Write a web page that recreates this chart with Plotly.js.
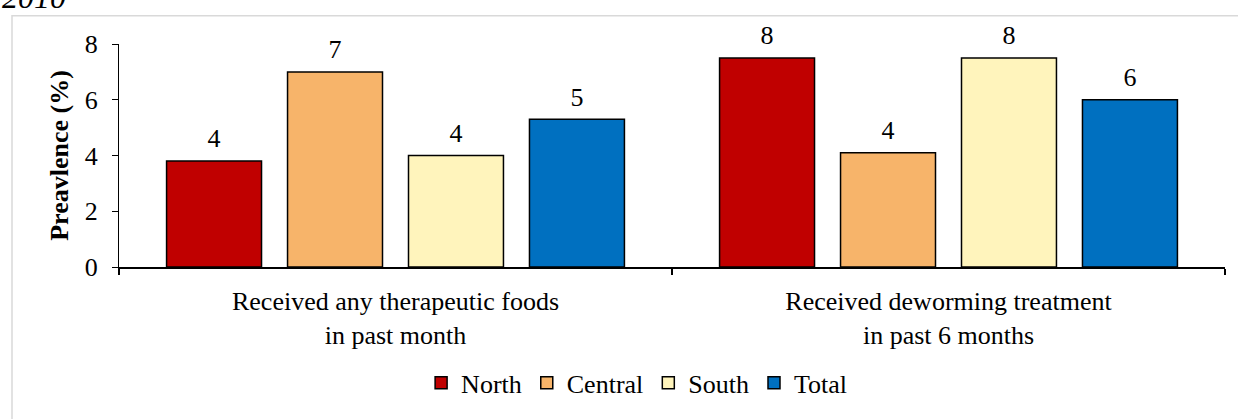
<!DOCTYPE html>
<html>
<head>
<meta charset="utf-8">
<script src="https://cdn.plot.ly/plotly-3.0.1.min.js"></script>
<style>html,body{margin:0;padding:0;background:#fff;}#chart{width:1238px;height:419px;}</style>
</head>
<body>
<div id="chart"></div>
<script>
const categories = ["Received any therapeutic foods<br>in past month", "Received deworming treatment<br>in past 6 months"];
const seriesNames = ["North", "Central", "South", "Total"];
const north = [3.8, 7.5];
const central = [7.0, 4.1];
const south = [4.0, 7.5];
const total = [5.3, 6.0];
const northLabels = ["4", "8"];
const centralLabels = ["7", "4"];
const southLabels = ["4", "8"];
const totalLabels = ["5", "6"];
const colors = ["#C00000", "#F7B46A", "#FFF4BC", "#0070C0"];
const yTicks = [0, 2, 4, 6, 8];

const FONT = "Liberation Serif";
const FS = 26;
const values = [north, central, south, total];
const labels = [northLabels, centralLabels, southLabels, totalLabels];

const barTraces = seriesNames.map((name, i) => ({
  type: "bar",
  name: name,
  x: categories,
  y: values[i],
  marker: {color: colors[i], line: {color: "#000", width: 1.5}},
  hoverinfo: "skip"
}));

const labelTraces = seriesNames.map((name, i) => ({
  type: "scatter",
  mode: "markers+text",
  name: name + " label",
  showlegend: false,
  x: categories,
  y: values[i],
  text: labels[i],
  textposition: "top center",
  textfont: {family: FONT, size: FS, color: "#000"},
  marker: {size: 10, opacity: 0, color: colors[i]},
  cliponaxis: false,
  hoverinfo: "skip"
}));

const layout = {
  width: 1238, height: 419,
  margin: {l: 119, r: 13, t: 44, b: 147},
  paper_bgcolor: "#fff", plot_bgcolor: "#fff",
  font: {family: FONT, size: FS, color: "#000"},
  barmode: "group",
  bargap: 0.125,
  bargroupgap: 0.215,
  scattermode: "group",
  scattergap: 0.125,
  showlegend: true,
  legend: {orientation: "h", x: 0.468, xanchor: "center", y: -0.52, yanchor: "middle",
           font: {family: FONT, size: FS, color: "#000"}, tracegroupgap: 0},
  xaxis: {
    showline: true, linecolor: "#000", linewidth: 1.5,
    ticks: "outside", tickson: "boundaries", ticklen: 6, tickcolor: "#000", tickwidth: 1.5,
    ticklabelstandoff: 10,
    showgrid: false, zeroline: false,
    tickfont: {family: FONT, size: FS, color: "#000"},
    fixedrange: true
  },
  yaxis: {
    range: [0, 8], tickvals: yTicks, ticktext: yTicks.map(String),
    showline: true, linecolor: "#000", linewidth: 1,
    ticks: "outside", ticklen: 6, tickcolor: "#000", tickwidth: 1,
    ticklabelstandoff: 9,
    showgrid: false, zeroline: false,
    tickfont: {family: FONT, size: FS, color: "#000"},
    title: {text: "<b>Preavlence (%)</b>", font: {family: FONT, size: FS, color: "#000"}, standoff: 8},
    fixedrange: true
  },
  shapes: [{
    type: "rect", xref: "paper", yref: "paper",
    x0: (12 - 119) / 1106, x1: 1.05, y0: -1.2, y1: (272 - 15) / 228,
    line: {color: "#d9d9d9", width: 1.5}, fillcolor: "rgba(0,0,0,0)", layer: "below"
  }],
  annotations: [{
    text: "<i>2010</i>", xref: "paper", yref: "paper",
    x: (0 - 119) / 1106, xanchor: "left",
    y: (272 - 16) / 228, yanchor: "bottom",
    showarrow: false, font: {family: FONT, size: 32, color: "#000"}
  }]
};

Plotly.newPlot("chart", barTraces.concat(labelTraces), layout, {displayModeBar: false, staticPlot: true});
</script>
</body>
</html>
